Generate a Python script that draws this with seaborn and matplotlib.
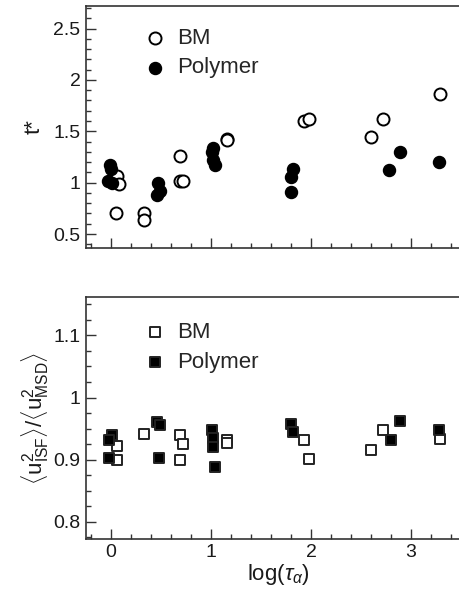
import numpy as np
import pandas as pd
import matplotlib
matplotlib.use("Agg")
import matplotlib.pyplot as plt
from matplotlib.ticker import MultipleLocator
import seaborn as sns

# --- top panel: t* vs log(tau_alpha) ---
bm_t_x = [0.063, 0.083, 0.053, 0.33, 0.33, 0.69, 0.69, 0.717, 1.157, 1.16,
          1.933, 1.977, 2.597, 2.717, 3.293]
bm_t_y = [1.065, 0.99, 0.70, 0.706, 0.64, 1.26, 1.016, 1.016, 1.43, 1.42,
          1.60, 1.62, 1.444, 1.624, 1.863]
poly_t_x = [-0.01, 0.0, -0.027, 0.007, 0.473, 0.49, 0.463, 1.017, 1.007, 1.023,
            1.04, 1.817, 1.797, 1.797, 2.783, 2.89, 3.28]
poly_t_y = [1.17, 1.13, 1.013, 0.997, 0.993, 0.918, 0.876, 1.34, 1.30, 1.216,
            1.17, 1.137, 1.052, 0.912, 1.124, 1.30, 1.20]

# --- bottom panel: <u2_ISF>/<u2_MSD> vs log(tau_alpha) ---
bm_u_x = [0.057, 0.057, 0.33, 0.69, 0.717, 0.69, 1.157, 1.157, 1.933, 1.977,
          2.597, 2.717, 3.293]
bm_u_y = [0.922, 0.899, 0.941, 0.939, 0.925, 0.899, 0.931, 0.926, 0.931, 0.901,
          0.916, 0.947, 0.933]
poly_u_x = [0.013, -0.017, -0.02, 0.463, 0.49, 0.483, 1.007, 1.017, 1.023, 1.04,
            1.797, 1.817, 2.797, 2.89, 3.28]
poly_u_y = [0.939, 0.931, 0.902, 0.961, 0.956, 0.903, 0.947, 0.934, 0.921, 0.888,
            0.958, 0.945, 0.931, 0.962, 0.948]

sns.set_style("ticks")
plt.rcParams["font.family"] = ["Liberation Sans", "DejaVu Sans"]
plt.rcParams["mathtext.fontset"] = "custom"
plt.rcParams["mathtext.rm"] = "Liberation Sans"
plt.rcParams["mathtext.it"] = "Liberation Sans:italic"
plt.rcParams["mathtext.sf"] = "Liberation Sans"

W, H = 460, 593
fig = plt.figure(figsize=(W / 100, H / 100), dpi=100)
ax1 = fig.add_axes([86 / W, 1 - 248 / H, 385 / W, 242 / H])
ax2 = fig.add_axes([86 / W, 1 - 539 / H, 385 / W, 242 / H])

spine_c = "#333333"
text_c = "#1a1a1a"
leg_kw = dict(loc="upper left", frameon=False, fontsize=16, handlelength=1.0,
              handletextpad=0.5, labelspacing=0.4, borderpad=0.2)


def style_axis(ax):
    for s in ax.spines.values():
        s.set_color(spine_c)
        s.set_linewidth(1.2)
    ax.tick_params(which="both", direction="in", color=spine_c, width=1.0,
                   labelsize=14, labelcolor=text_c)
    ax.tick_params(which="major", length=7)
    ax.tick_params(which="minor", length=3.5)
    ax.tick_params(axis="y", pad=4)
    ax.set_xlim(-0.25, 3.6)
    ax.xaxis.set_major_locator(MultipleLocator(1))
    ax.xaxis.set_minor_locator(MultipleLocator(0.2))


# top panel
sns.scatterplot(x=bm_t_x, y=bm_t_y, ax=ax1, marker="o", s=75, facecolor="white",
                edgecolor="black", linewidth=1.4, label="BM", zorder=3)
sns.scatterplot(x=poly_t_x, y=poly_t_y, ax=ax1, marker="o", s=75, color="black",
                edgecolor="black", linewidth=1.0, label="Polymer", zorder=3)
style_axis(ax1)
ax1.set_ylim(0.364, 2.72)
ax1.yaxis.set_minor_locator(MultipleLocator(0.1))
ax1.set_yticks([0.5, 1, 1.5, 2, 2.5])
ax1.set_yticklabels(["0.5", "1", "1.5", "2", "2.5"])
ax1.tick_params(axis="x", labelbottom=False)
ax1.set_ylabel("t*", fontsize=16, color=text_c, labelpad=6)
ax1.legend(bbox_to_anchor=(0.11, 0.975), **leg_kw)

# bottom panel
sns.scatterplot(x=bm_u_x, y=bm_u_y, ax=ax2, marker="s", s=58, facecolor="white",
                edgecolor="#222222", linewidth=1.4, label="BM", zorder=3)
sns.scatterplot(x=poly_u_x, y=poly_u_y, ax=ax2, marker="s", s=58, color="black",
                edgecolor="#222222", linewidth=1.4, label="Polymer", zorder=3)
style_axis(ax2)
ax2.set_ylim(0.772, 1.162)
ax2.set_yticks([0.8, 0.9, 1.0, 1.1])
ax2.set_yticklabels(["0.8", "0.9", "1", "1.1"])
ax2.yaxis.set_minor_locator(MultipleLocator(0.025))
ax2.set_xticks([0, 1, 2, 3])
ax2.set_xlabel(r"log($\tau_\alpha$)", fontsize=16, color=text_c, labelpad=1)
ax2.set_ylabel(r"$\langle\mathrm{u}^2_{\mathrm{ISF}}\rangle/\langle\mathrm{u}^2_{\mathrm{MSD}}\rangle$",
               fontsize=16, color=text_c, labelpad=2)
ax2.legend(bbox_to_anchor=(0.11, 0.96), **leg_kw)

fig.savefig("out.png", dpi=100)
